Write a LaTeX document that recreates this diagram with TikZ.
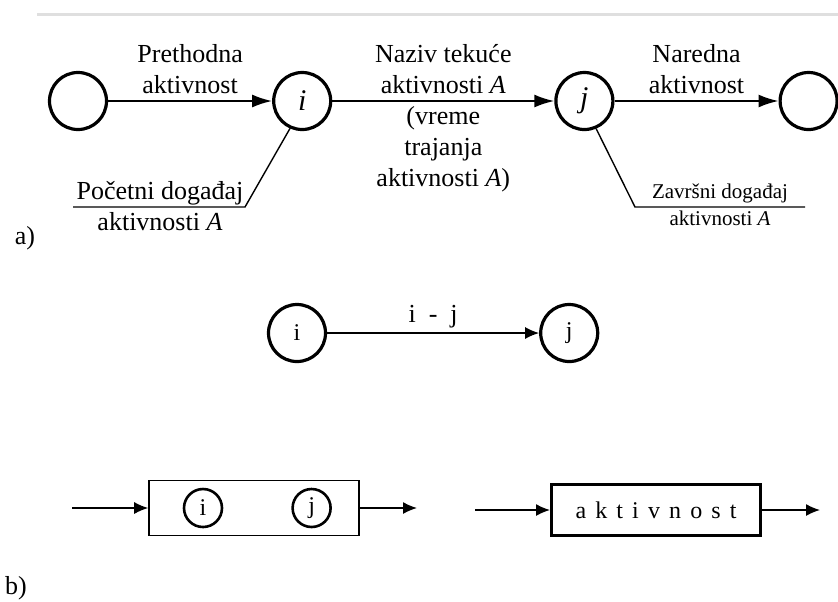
\documentclass[tikz,border=0pt]{standalone}
\usepackage{fontspec}
\setmainfont{Liberation Serif}
\usetikzlibrary{arrows.meta,positioning}

\begin{document}
\begin{tikzpicture}[
    x=0.5pt, y=-0.5pt,
    event/.style={
        circle,
        draw=black,
        line width=1.6pt,
        minimum size=28.5pt,
        inner sep=0pt,
        font=\fontsize{15}{18}\selectfont\itshape
    },
    ijevent/.style={
        event,
        font=\fontsize{12}{14}\selectfont
    },
    smallevent/.style={
        circle,
        draw=black,
        line width=1.3pt,
        minimum size=19pt,
        inner sep=0pt,
        font=\fontsize{12}{14}\selectfont
    },
    lbl/.style={
        align=center,
        inner sep=3pt,
        font=\fontsize{13}{15.5}\selectfont
    },
    smalllbl/.style={
        align=center,
        inner sep=0pt,
        font=\fontsize{10.5}{13.5}\selectfont
    },
    blockbox/.style={
        rectangle,
        draw=black,
        line width=0.8pt,
        minimum width=105pt,
        minimum height=27.5pt
    },
    actbox/.style={
        rectangle,
        draw=black,
        line width=1.7pt,
        minimum width=104.3pt,
        minimum height=25.3pt,
        font=\fontsize{12}{14}\selectfont
    },
    actarrow/.style={line width=1pt,->,>={Latex[length=10pt,width=6.5pt]}},
    thinarrow/.style={line width=0.7pt,->,>={Latex[length=7pt,width=6pt]}},
    note/.style={line width=0.7pt}
]
\useasboundingbox (0,0) rectangle (838,601);
\coordinate (rulestart) at (37,14);
\coordinate (ruleend) at (838,14);
\draw [line width=1.5pt, gray!25] (rulestart) -- (ruleend);

% a)
\node (pred) [event] at (78,101) {};
\node (i) [event, right=82pt of pred] {i};
\node (j) [event, right=111pt of i] {j};
\node (nar) [event, right=82pt of j] {};
\draw [actarrow] (pred) -- node[lbl, above] {Prethodna\\aktivnost} (i);
\draw [actarrow] (i) -- node[lbl, yshift=-8.5pt] {Naziv tekuće\\aktivnosti \textit{A}\\(vreme\\trajanja\\aktivnosti \textit{A})} (j);
\draw [actarrow] (j) -- node[lbl, above] {Naredna\\aktivnost} (nar);
\coordinate (pockink) at (245,207);
\coordinate (pocend) at (73,207);
\draw [note] (i.246) -- (pockink) -- (pocend);
\node (pocetni) [lbl, inner sep=0pt] at (160,206) {Početni događaj\\aktivnosti \textit{A}};
\coordinate (zavkink) at (635,207);
\coordinate (zavend) at (805,207);
\draw [note] (j.293) -- (zavkink) -- (zavend);
\node (zavrsni) [smalllbl] at (720,205) {Završni događaj\\aktivnosti \textit{A}};
\node (lbla) [lbl] at (25,238) {a)};

% b)
\node (bi) [ijevent] at (297,333) {i};
\node (bj) [ijevent, right=106pt of bi] {j};
\draw [thinarrow] (bi) -- node[lbl, above, inner sep=2pt] {i\ \ -\ \ j} (bj);
\node (blok) [blockbox] at (254,508) {};
\node (ci) [smallevent] at (203,508) {i};
\node (cj) [smallevent, right=34pt of ci] {j};
\coordinate (blokin) at (72,508);
\coordinate (blokout) at (417,508);
\draw [thinarrow] (blokin) -- (blok);
\draw [thinarrow] (blok) -- (blokout);
\node (akt) [actbox] at (656,510) {\addfontfeature{LetterSpace=38}aktivnost};
\coordinate (aktin) at (475,510);
\coordinate (aktout) at (820,510);
\draw [thinarrow] (aktin) -- (akt);
\draw [thinarrow] (akt) -- (aktout);
\node (lblb) [lbl] at (16,588) {b)};
\end{tikzpicture}
\end{document}
